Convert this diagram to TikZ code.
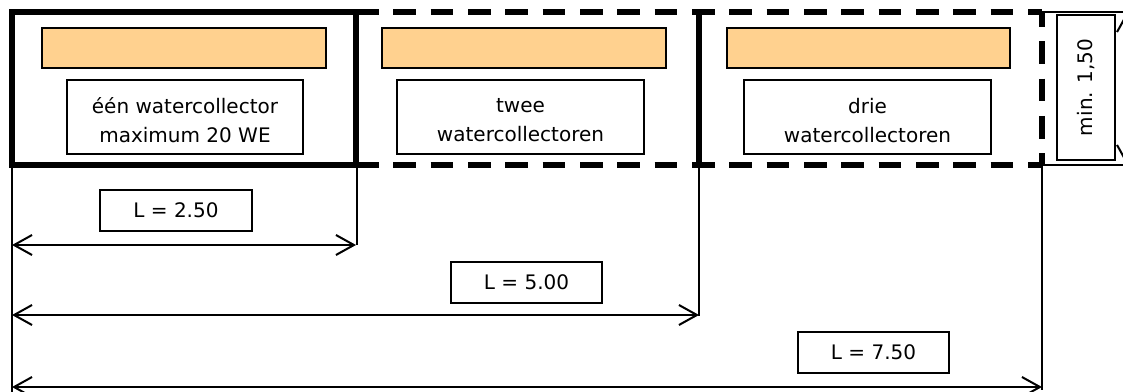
\documentclass[tikz,border=0pt]{standalone}
\usepackage{fontspec}
\setmainfont{DejaVu Sans}
\usetikzlibrary{arrows.meta}
\definecolor{barfill}{HTML}{FFD18F}
\begin{document}
\begin{tikzpicture}[x=0.75pt,y=-0.75pt,
  zonesolid/.style={line width=3.9pt},
  zonedash/.style={line width=3.9pt, dash pattern=on 17pt off 11pt},
  bar/.style={draw, fill=barfill, line width=1.4pt, inner sep=0pt, minimum height=30pt},
  labelbox/.style={draw, line width=0.8pt, inner sep=0pt, align=center,
    font=\fontsize{15}{21.75}\selectfont},
  txt/.style={font=\fontsize{15}{21.75}\selectfont, inner sep=0pt},
  ext/.style={line width=1.1pt},
  dim/.style={line width=1.5pt,
    {Straight Barb[length=13.5pt,width=15pt,line width=1.5pt]}-{Straight Barb[length=13.5pt,width=15pt,line width=1.5pt]}}
]
\useasboundingbox (0,0) rectangle (1123,392);
% zone corners
\coordinate (z1tl) at (12,12);
\coordinate (z1br) at (356,165);
\coordinate (z2tr) at (699,12);
\coordinate (z2br) at (699,165);
\coordinate (z3tr) at (1042,12);
\coordinate (z3br) at (1042,165);
\coordinate (z1tr) at (356,12);
\coordinate (z1bl) at (12,165);
% dashed zones
\draw[zonedash] (z1tr) -- (z3tr);
\draw[zonedash] (z1br) -- (z3br);
\draw[zonedash, dash phase=6pt] (z3tr) -- (z3br);
\draw[zonesolid] (z2tr) -- (z2br);
\draw[zonesolid] (z1tl) rectangle (z1br);
% bars
\node[bar, minimum width=213pt] (bar1) at (184,48) {};
\node[bar, minimum width=213pt] (bar2) at (524,48) {};
\node[bar, minimum width=212.25pt] (bar3) at (868.5,48) {};
% text boxes
\node[draw, line width=0.8pt, minimum width=177pt, minimum height=55.5pt] (t1) at (185,117) {};
\node[draw, line width=0.8pt, minimum width=185.25pt, minimum height=55.5pt] (t2) at (520.5,117) {};
\node[draw, line width=0.8pt, minimum width=185.25pt, minimum height=55.5pt] (t3) at (867.5,117) {};
\node[labelbox, draw=none, yshift=-2.5pt] (t1t) at (t1.center) {één watercollector\\maximum 20 WE};
\node[labelbox, draw=none, yshift=-2.5pt] (t2t) at (t2.center) {twee\\watercollectoren};
\node[labelbox, draw=none, yshift=-2.5pt] (t3t) at (t3.center) {drie\\watercollectoren};
% extension lines
\coordinate (e0) at (12,392);
\coordinate (e1) at (357,245);
\coordinate (e2) at (699,316);
\coordinate (e3) at (1042,390);
\draw[ext] (z1bl) -- (e0);
\draw[ext] (357,165) -- (e1);
\draw[ext] (z2br) -- (e2);
\draw[ext] (z3br) -- (e3);
% dimension arrows
\coordinate (a1l) at (12,245);
\coordinate (a1r) at (356,245);
\coordinate (a2l) at (12,315);
\coordinate (a2r) at (699,315);
\coordinate (a3l) at (12,387);
\coordinate (a3r) at (1042,387);
\draw[dim] (a1l) -- (a1r);
\draw[dim] (a2l) -- (a2r);
\draw[dim] (a3l) -- (a3r);
\node[labelbox, minimum width=114pt, minimum height=30.75pt] (l1) at (176,210.5) {L = 2.50};
\node[labelbox, minimum width=113.25pt, minimum height=30.75pt] (l2) at (526.5,282.5) {L = 5.00};
\node[labelbox, minimum width=113.25pt, minimum height=30.75pt] (l3) at (873.5,352.5) {L = 7.50};
% vertical dimension
\coordinate (vt) at (1127,12);
\coordinate (vb) at (1127,165);
\draw[ext] (z3tr) -- (vt);
\draw[ext] (z3br) -- (vb);
\draw[dim] (vt) -- (vb);
\node[draw, line width=0.8pt, inner sep=0pt, minimum width=43.5pt, minimum height=108.75pt] (mb) at (1086,87.5) {};
\node[txt, rotate=90] (mt) at (mb.center) {min. 1,50};
\end{tikzpicture}
\end{document}
